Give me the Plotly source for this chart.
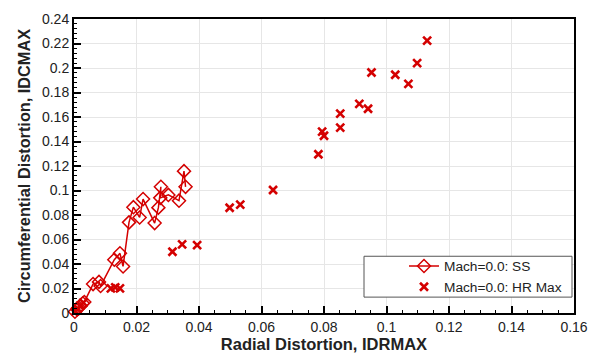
import plotly.graph_objects as go

ss_x = [0.0003, 0.0010, 0.0015, 0.0020, 0.0028, 0.0033, 0.0061, 0.0080, 0.0085,
        0.0129, 0.0147, 0.0157, 0.0176, 0.0190, 0.0210, 0.0221, 0.0258, 0.0270,
        0.0278, 0.0276, 0.0302, 0.0336, 0.0352, 0.0357]
ss_y = [0.0010, 0.0030, 0.0045, 0.0055, 0.0080, 0.0090, 0.0236, 0.0254, 0.0220,
        0.0435, 0.0487, 0.0380, 0.0740, 0.0864, 0.0780, 0.0930, 0.0734, 0.0860,
        0.1030, 0.0940, 0.0964, 0.0917, 0.1158, 0.1030]

hr_x = [0.0005, 0.0012, 0.0020, 0.0030, 0.0118, 0.0132, 0.0147, 0.0315, 0.0346,
        0.0394, 0.0498, 0.0532, 0.0637, 0.0782, 0.0794, 0.0800, 0.0852, 0.0852,
        0.0913, 0.0941, 0.0952, 0.1028, 0.1070, 0.1098, 0.1130]
hr_y = [0.0015, 0.0035, 0.0060, 0.0085, 0.0201, 0.0209, 0.0201, 0.0500, 0.0560,
        0.0554, 0.0859, 0.0885, 0.1004, 0.1296, 0.1480, 0.1447, 0.1627, 0.1513,
        0.1707, 0.1667, 0.1963, 0.1945, 0.1870, 0.2040, 0.2223]

RED = "#d40000"
FONT = "Liberation Sans, Arial, sans-serif"
TXT = "#222"

fig = go.Figure()
fig.add_trace(go.Scatter(
    x=ss_x, y=ss_y, mode="lines+markers", name="Mach=0.0: SS",
    line=dict(color=RED, width=1.5),
    marker=dict(symbol="diamond-open", size=10, color=RED, line=dict(width=1.5, color=RED)),
    cliponaxis=False,
))
fig.add_trace(go.Scatter(
    x=hr_x, y=hr_y, mode="markers", name="Mach=0.0: HR Max",
    marker=dict(symbol="x-thin-open", size=8, color=RED, line=dict(width=2.6, color=RED)),
    cliponaxis=False,
))

axis_common = dict(
    showline=True, linecolor="black", linewidth=2, mirror=True,
    ticks="inside", ticklen=7, tickwidth=2, tickcolor="black",
    showgrid=True, gridcolor="#e6e6e6", gridwidth=1,
    zeroline=False,
    tickfont=dict(family=FONT, size=14, color=TXT),
)

fig.update_xaxes(
    range=[0, 0.16], dtick=0.02, tick0=0,
    minor=dict(dtick=0.005, ticks="inside", ticklen=3, tickwidth=1, tickcolor="black", showgrid=False),
    title=dict(text="<b>Radial Distortion, IDRMAX</b>", font=dict(family=FONT, size=16.5, color=TXT), standoff=2),
    **axis_common,
)
fig.update_yaxes(
    range=[0, 0.24], dtick=0.02, tick0=0,
    minor=dict(dtick=0.004, ticks="inside", ticklen=3, tickwidth=1, tickcolor="black", showgrid=False),
    title=dict(text="<b>Circumferential Distortion, IDCMAX</b>", font=dict(family=FONT, size=16.3, color=TXT), standoff=7),
    **axis_common,
)

# legend frame
fig.add_shape(type="rect", xref="paper", yref="paper",
              x0=0.580, x1=0.996, y0=0.054, y1=0.193,
              line=dict(color="#555", width=1), fillcolor="white", layer="above")

fig.update_layout(
    width=599, height=360,
    margin=dict(l=74, r=16, t=11, b=47),
    plot_bgcolor="white", paper_bgcolor="white",
    legend=dict(
        x=0.660, y=0.124, xanchor="left", yanchor="middle",
        bgcolor="rgba(0,0,0,0)", borderwidth=0,
        font=dict(family=FONT, size=13.7, color=TXT),
        tracegroupgap=0, itemwidth=30,
    ),
)

fig.write_html("out.html")
